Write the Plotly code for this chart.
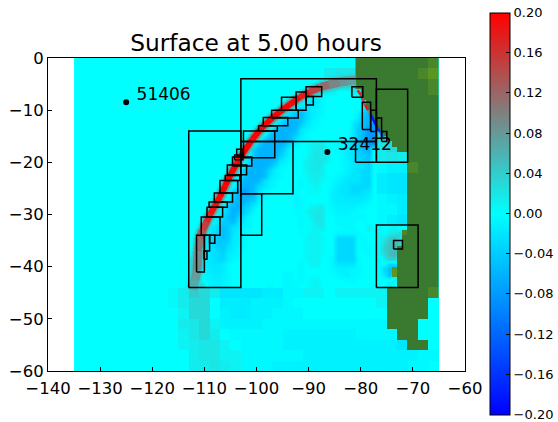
import numpy as np
import plotly.graph_objects as go
from plotly.colors import sample_colorscale

LEVELS = {'.': 0.0, 'a': -.005, 'b': -.01, 'c': -.015, 'd': -.02, 'e': -.03, 'f': -.04, 'g': -.05,
          'h': -.06, 'i': -.08, '1': .005, '2': .01, '3': .015, '4': .02, '5': .03, '6': .04,
          '7': .05, '8': .06}
SCALE = [[0, '#0000ff'], [0.5, '#00ffff'], [0.75, '#808080'], [1, '#ff0000']]

# 2-degree ocean cells, lat 0 to -60 (rows), lon -135 to -65 (columns)
coarse_rows = [
 "..... ..... ..... ..... ..... ..... .....",
 "..... ..... ..... ..... ....3 44... .....",
 "..... ..... ..... ..... ..... ..... .....",
 "..... ..... ..... ..... ..... ..... .....",
 "..... ..... ..... ..... ..... ..... .....",
 "..... ..... ..... ..... ..... ..... .....",
 "..... ..... ..... ..... ..... ....5 .....",
 "..... ..... ..... ..... ..... ....5 5....",
 "..... ..... ..... ..... ..... ....4 54...",
 "..... ..... ..... ..... ..... ....3 432..",
 "..... ..... ..... ..... ..... ....a bb...",
 "..... ..... ..... ..... ..... ....c dd...",
 "..... ..... ..... ..... ..... ....c dd...",
 "..... ..... ..... ..... ..... ....a bc...",
 "..... ..... ..... ..... ..... ....a ac...",
 "..... ..... ..... ..... ..... ....a cd...",
 "..... ..... ..... ..... ..... ..... .....",
 "..... ..... ..... ..... ..... ..... .....",
 "..... ..... ..... ..... ..... ..... .....",
 "..... ..... ..... ..... ..... ..... .....",
 "..... ..... ..... ..... ..... ..... .....",
 "..... ..... ..... ..... ..... ..... .....",
 "..... ....1 3653d dddcc aa22. 22222 .....",
 "..... ....1 355.c ccbbb a.... ....2 .....",
 "..... ..... 255.b ccbba aa... ..... .....",
 "..... ..... 3452b bbbaa aaaaa aaaaa a....",
 "..... ..... 2453. aaaaa bbbbb bbaaa aa...",
 "..... ..... 23442 .aaaa bbbbb bbbbb bd...",
 "..... ..... .3442 2aaaa aabbb bbbbb bbbaa",
 "..... ..... .3343 2aaab bbbbb bbbbb bbaa.",
]

# 1-degree refined cells around the wave, lat -4 to -44, lon -113 to -77
fine_rows = [
 "...... ...... ...... ...... ....33 444444",
 "...... ...... ...... ...... .34554 555555",
 "...... ...... ...... .....4 5433.. .33455",
 "...... ...... ...... ...45b ba.... ...345",
 "...... ...... ...... .45.cd ca.... ....a5",
 "...... ...... ...... 5.cedc ba.... ...bf5",
 "...... ...... .....4 .efgec ba.... ..bfh4",
 "...... ...... ....5. egggec a..... ..cgh.",
 "...... ...... ...5.e ghhfdb a..... .ceghi",
 "...... ...... ..5.fh hhgdba ...... .cfgii",
 "...... ...... .5.fhh hgfca. ...... .cfhii",
 "...... ...... 5.fhhh hgdba. ...... adfhii",
 "...... .....5 .fhhhh gda..2 24..aa cefhii",
 "...... ....5. fhhhhg ea...2 443.aa cdfgh.",
 "...... ....5. fhhhhf da...3 443..a cdefg.",
 "...... ...5.e hhhhgd ba..23 443..a bdeff.",
 "...... ...5.f hhhgeb a...23 43...a bcdde.",
 "...... ..5.fh hhgeba ....23 43...a bcdee.",
 "...... ..5.fh hhgdba ....13 32..ab cddee.",
 "...... .5.fhh hgdba. ...a.2 31.abc dddee.",
 "...... .5.fhh gedba. ...a.1 2..acd deeee.",
 "...... 5.fhih gda... ..a..1 1..bcd deedd.",
 "...... 5.ehhh gca... ..a... ...bcc ddddc.",
 ".....5 .dghhf eb.... ..aa.. ...bcc cccba.",
 "....5. cfhhfe b..... ..aa.2 34.abb bbaa..",
 "....5. dfhgfd a..... ..a.23 44.abb baa...",
 "...5.c egheda ...... ...a.2 44..aa aaaa..",
 "...5.d ffgdcb ...... ...a.1 44..aa aa....",
 "..5.de gfdcaa ...... ...a.1 23...a aa..3.",
 "..5.de gfdba. ...... ...1.2 2...aa aaa...",
 ".5.cef gfcba. ...... ....12 21..ee ee.a..",
 ".5.cef fecba. ...... ....12 21..ee ee.a..",
 ".5.cde fdcaa. ...... ....12 21..ee ee.aa.",
 ".5.cde ecba.. ...... ....12 21..ee ee..a.",
 "5.bcde eca... ...... ....12 2..aee eea...",
 "5.bcdd ca.... ...... ...a.2 2..add dda...",
 "54.bcd ca.... ...... ...a.. ...abb baa...",
 "45.bcc ba.... ...... aa.a.. ....ab baa...",
 "45.abc ba.... ...... aa.a.1 2..... aa....",
 "556abc ba.... ...a.. aaa..1 2..... .....1",
]

# refined cells on the southern coast box, lat -32 to -44, lon -77 to -71
south_rows = ["1.12..", "2.345.", "24675.", "25786.", "26785.", "25785.",
              "b366..", "a.ee..", "aegh..", ".dga..", "...3..", "..3..."]

# land, 1-degree cells, lat 0 downward, lon -81 to -65
land_rows = [
 "LLLLLLLLLLLLLLMM", "LLLLLLLLLLLLLLMM", "LLLLLLLLLLLLMMOO", "LLLLLLLLLLLLMMOO",
 "LLLLLLLLLLLLLLMM", "LLLLLLLLLLLLLLMM", " LLLLLLLLLLLLLMM", " LLLLLLLLLLLLLLL",
 "  LLLLLLLLLLLLLL", "  LLLLLLLLLLLLLL", "   LLLLLLLLLLLLL", "   LLLLLLLLLLLLL",
 "    LLLLLLLLLLLL", "    LLLLLLLLLLLL", "     LLLLLLLLLLL", "      LLLLLLLLLL",
 "       LLLLLLLLL", "        LLLLLLLL", "          LLLLLL", "          LLLLLL",
 "          MMLLLL", "          MMLLLL", "          LLLLLL", "          LLLLLL",
 "          LLLLLL", "          LLLLLL", "          LLLLLL", "          LLLLLL",
 "          LLLLLL", "          LLLLLL", "          LLLLLL", "          LLLLLL",
 "          LLLLLL", "         MLLLLLL", "         LLLLLLL", "         LLLLLLL",
 "        LLLLLLLL", "        LLLLLLLL", "        LLLLLLLL", "        LLLLLLLL",
 "       OLLLLLLLL", "       OLLLLLLLL", "        LLLLLLLL", "        LLLLLLLL",
 "      LLLLLLLLMM", "      LLLLLLLLMM", "      LLLLLLLL  ", "      LLLLLLLL  ",
 "      LLLLLLLL  ", "      LLLLLLLL  ", "      LLLLLL    ", "      LLLLLL    ",
 "        LLLL    ", "        LLLL    ", "          LLLL  ", "          LLLL  ",
]

# leading wave front
arc_lon = [-112.3, -111.8, -111.4, -111.2, -110.9, -110.3, -109.6, -108.9, -108, -107, -106, -105, -103.8,
           -102.6, -100.8, -99, -97.3, -95.5, -93.6, -91.7, -89.8, -87.8, -86, -84, -82.5, -81]
arc_lat = [-44.4, -42.5, -40.6, -37, -34.5, -33, -31.5, -30, -28.4, -26.6, -24.5, -22.4, -20.2,
           -18.2, -15.6, -13.4, -11.8, -10.3, -8.9, -7.5, -6.5, -5.6, -5.1, -4.6, -4.4, -4.2]
arc_val = [.06, .07, .085, .1, .12, .14, .16, .18, .19, .2, .2, .2, .2,
           .2, .2, .2, .2, .2, .2, .19, .17, .13, .1, .09, .08, .07]
arc_core = [9, 9, 9, 8, 8, 7, 6.5, 6, 6, 6, 6, 6, 6,
            6, 6, 6, 6, 6, 6, 6, 7, 8, 9, 9, 9]

# thin run-up features along the coast
coast_lon = [-80.6, -79.9, -79.2, -78.6, -78.1, -77.5, -76.9, -76.3, -75.6, -75.1]
coast_lat = [-6.2, -7.2, -9, -10, -10.8, -12, -13.2, -14.2, -15.2, -16]
coast_val = [.17, .14, .18, .1, -.18, -.2, -.16, -.1, .07, .05]

# refinement patch outlines (lon0, lon1, lat0, lat1)
box_lon0 = [-113, -103, -103, -103, -81, -77, -77, -73.7,
            -102.5, -99.6, -98.7, -97.1, -95.2, -92.4, -90.5, -90.5,
            -103.8, -104.2, -104.6, -105.6, -106, -107, -108.1, -109.1, -109.5, -110.6, -111.5, -110, -109, -110.1,
            -81.7, -79.7, -78.1, -77, -76]
box_lon1 = [-103, -77, -93, -99, -77, -71, -69, -72,
            -96.5, -96, -94, -92, -92.4, -90.5, -87.5, -89.1,
            -102.6, -102.6, -100.9, -101.9, -103.2, -103.6, -104.6, -105.6, -106.5, -107, -110, -109, -108, -109.5,
            -79.6, -78.1, -77, -76, -75]
box_lat0 = [-44, -16, -26, -34, -20, -20, -44, -36.6,
            -19.1, -14, -13, -11.5, -10, -10, -7.4, -9,
            -18.8, -19.5, -20.7, -22.4, -23.5, -25.9, -27.6, -28.6, -30.5, -34, -41, -37, -35.5, -38.6,
            -7.5, -13.7, -14.1, -15.4, -16]
box_lat1 = [-14, -4, -16, -26, -16, -6, -32, -35,
            -14, -13, -11.4, -10, -7.5, -6.5, -5.5, -7.4,
            -17.5, -18.6, -19, -20.5, -22.5, -23.5, -25.9, -27.6, -28.6, -30.5, -34, -34, -34, -37,
            -5.5, -8.5, -10, -11.5, -14.1]

station_lon = [-125, -86.4]
station_lat = [-8.5, -18]
station_names = ["51406", "32412"]
label_lon = [-123, -84.4]
label_lat = [-7.2, -16.9]

x_ticks = [-140, -130, -120, -110, -100, -90, -80, -70, -60]
y_ticks = [-60, -50, -40, -30, -20, -10, 0]
bar_ticks = [-0.2, -0.16, -0.12, -0.08, -0.04, 0.0, 0.04, 0.08, 0.12, 0.16, 0.2]
bar_labels = ["\u22120.20", "\u22120.16", "\u22120.12", "\u22120.08", "\u22120.04", "0.00", "0.04", "0.08", "0.12",
              "0.16", "0.20"]


def to_grid(rows):
    return np.array([[LEVELS[c] for c in r.replace(" ", "")] for r in rows])


fig = go.Figure()
coarse = to_grid(coarse_rows)
fig.add_trace(go.Heatmap(z=coarse, x=np.arange(-134, -64, 2), y=np.arange(-1, -61, -2), coloraxis="coloraxis",
                         hoverinfo="skip"))
fine = to_grid(fine_rows)
fig.add_trace(go.Heatmap(z=fine, x=np.arange(-112.5, -76.5, 1), y=np.arange(-4.5, -44.5, -1), coloraxis="coloraxis",
                         zsmooth="best", hoverinfo="skip"))
south = to_grid(south_rows)
fig.add_trace(go.Heatmap(z=south, x=np.arange(-76.5, -70.5, 1), y=np.arange(-32.5, -44.5, -1), coloraxis="coloraxis",
                         zsmooth="best", hoverinfo="skip"))

land_code = {' ': np.nan, 'L': 0, 'M': 1, 'O': 2}
land = np.array([[land_code[c] for c in r] for r in land_rows], dtype=float)
fig.add_trace(go.Heatmap(z=land, x=np.arange(-80.5, -64.5, 1), y=np.arange(-0.5, -56.5, -1), zmin=0, zmax=2,
                         colorscale=[[0, '#3a7a30'], [0.5, '#4a862b'], [1, '#5c9622']], showscale=False,
                         hoverinfo="skip"))


def colour(v):
    return sample_colorscale(SCALE, [(v + 0.2) / 0.4])[0]


for factor, extra, alpha in [(0.3, 7, 0.35), (0.6, 3.5, 0.5), (1.0, 0, 1)]:
    for i in range(len(arc_lon) - 1):
        fig.add_trace(go.Scatter(x=arc_lon[i:i + 2], y=arc_lat[i:i + 2], mode="lines", hoverinfo="skip",
                                 line=dict(color=colour(0.5 * (arc_val[i] + arc_val[i + 1]) * factor),
                                           width=arc_core[i] + extra),
                                 opacity=alpha))
for i in range(len(coast_lon) - 1):
    fig.add_trace(go.Scatter(x=coast_lon[i:i + 2], y=coast_lat[i:i + 2], mode="lines", hoverinfo="skip",
                             line=dict(color=colour(coast_val[i]), width=2.5)))

bx, by = [], []
for a, b, c, d in zip(box_lon0, box_lon1, box_lat0, box_lat1):
    bx += [a, b, b, a, a, None]
    by += [c, c, d, d, c, None]
fig.add_trace(go.Scatter(x=bx, y=by, mode="lines", line=dict(color="black", width=1.5), hoverinfo="skip"))

fig.add_trace(go.Scatter(x=station_lon, y=station_lat, mode="markers",
                         marker=dict(color="black", size=6), hoverinfo="skip"))
fig.add_trace(go.Scatter(x=label_lon, y=label_lat, mode="text", text=station_names, textposition="middle right",
                         textfont=dict(family="DejaVu Sans", size=17, color="black"), hoverinfo="skip"))

axis = dict(ticks="inside", ticklen=4, tickcolor="black", showgrid=False, zeroline=False, showline=True,
            linecolor="black", linewidth=1, mirror=True, tickfont=dict(family="DejaVu Sans", size=16.5, color="black"))
fig.update_layout(
    width=558, height=422, autosize=False, showlegend=False,
    paper_bgcolor="white", plot_bgcolor="white",
    margin=dict(l=47.5, r=92.5, t=58, b=51, autoexpand=False),
    font=dict(family="DejaVu Sans", color="black"),
    title=dict(text="Surface at 5.00 hours", x=256 / 558, xanchor="center", y=1 - 43 / 422, yanchor="middle",
               font=dict(family="DejaVu Sans", size=23.3, color="black")),
    xaxis=dict(axis, range=[-140, -60], tickvals=x_ticks, ticktext=[f"\u2212{abs(v)}" for v in x_ticks],
               ticklabelstandoff=2),
    yaxis=dict(axis, range=[-60, 0], tickvals=y_ticks, ticktext=[f"\u2212{abs(v)}" if v else "0" for v in y_ticks]),
    coloraxis=dict(cmin=-0.2, cmax=0.2, colorscale=SCALE, colorbar=dict(
        x=(490.7 - 47.5) / 418, xanchor="left", y=(371 - 12.5) / 313, yanchor="top",
        lenmode="pixels", len=402, thicknessmode="pixels", thickness=20, xpad=0, ypad=0,
        outlinecolor="black", outlinewidth=1, ticks="inside", ticklen=4, tickcolor="black",
        tickmode="array", tickvals=bar_ticks, ticktext=bar_labels, ticklabeloverflow="allow",
        tickfont=dict(family="DejaVu Sans", size=13, color="black"))),
)
fig.write_html("out.html", config={"displayModeBar": False},
               post_script="document.body.style.margin='0';")
